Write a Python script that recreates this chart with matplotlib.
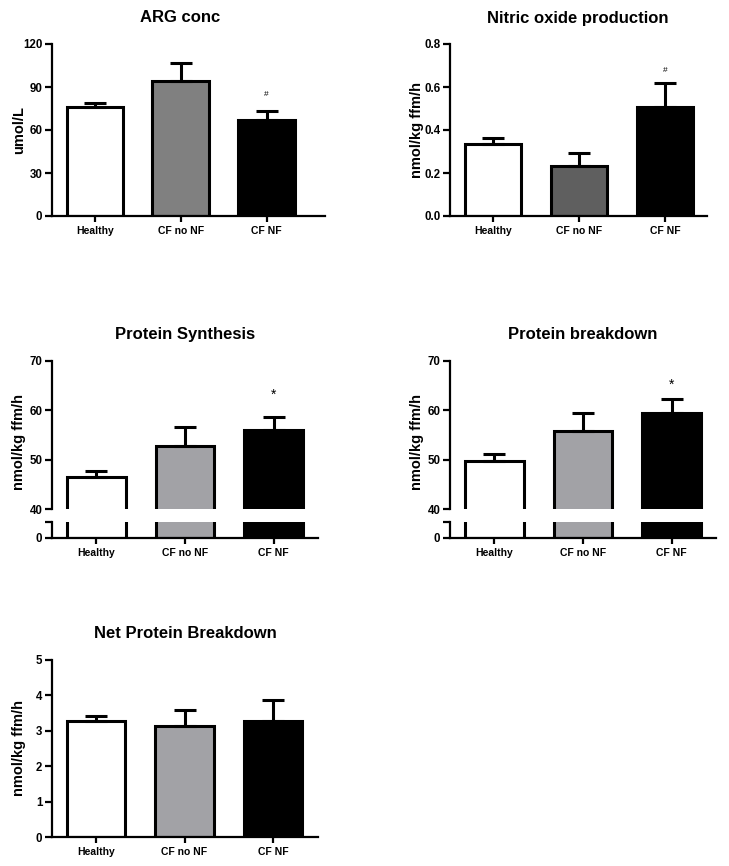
import numpy as np
import matplotlib
matplotlib.use('Agg')
import matplotlib.pyplot as plt

plt.rcParams['font.family'] = ['Liberation Sans', 'DejaVu Sans']
plt.rcParams['font.weight'] = 'bold'
plt.rcParams['axes.labelweight'] = 'bold'

groups = ['Healthy', 'CF no NF', 'CF NF']

arg_mean = [76, 94, 67]
arg_top = [79, 107, 73]
no_mean = [0.335, 0.232, 0.505]
no_top = [0.365, 0.293, 0.62]
syn_mean = [46.4, 52.7, 56.0]
syn_top = [47.8, 56.6, 58.6]
brk_mean = [49.7, 55.8, 59.4]
brk_top = [51.1, 59.4, 62.2]
net_mean = [3.28, 3.14, 3.27]
net_top = [3.41, 3.59, 3.87]

W, H = 729, 866
fig = plt.figure(figsize=(W / 100, H / 100), dpi=100)

lw = 2.2
x = np.arange(3)


def frac(l, t, r, b):
    return [l / W, 1 - b / H, (r - l) / W, (b - t) / H]


def style(ax):
    for s in ['top', 'right']:
        ax.spines[s].set_visible(False)
    for s in ['left', 'bottom']:
        ax.spines[s].set_linewidth(1.6)
    ax.tick_params(axis='y', width=1.6, length=5, labelsize=8.3, pad=2)
    ax.tick_params(axis='x', width=1.6, length=4, labelsize=7.5)


def bars(ax, mean, top, colors, werr=True):
    ax.bar(x, mean, width=0.66, color=colors, edgecolor='black', linewidth=lw, zorder=2)
    if werr:
        lo = np.zeros(3)
        hi = np.array(top) - np.array(mean)
        ax.errorbar(x, mean, yerr=[lo, hi], fmt='none', ecolor='black',
                    elinewidth=lw, capsize=8, capthick=lw, zorder=3)


def label(ax, text, l, r, yc=0.5):
    ax.set_ylabel(text, fontsize=10.5, fontweight='bold')
    ax.yaxis.set_label_coords(-26 / (r - l), yc)


def simple(l, t, r, b, mean, top, colors, ylim, ticks, ylabel, title, xr, tpos, fmt='%g'):
    ax = fig.add_axes(frac(l, t, r, b))
    bars(ax, mean, top, colors)
    ax.set_ylim(*ylim)
    ax.set_xlim(-0.5, xr)
    ax.set_yticks(ticks)
    ax.set_yticklabels([fmt % v for v in ticks])
    ax.set_xticks(x)
    ax.set_xticklabels(groups)
    label(ax, ylabel, l, r)
    style(ax)
    fig.text(tpos[0] / W, 1 - tpos[1] / H, title, ha='center', va='center',
             fontsize=12, fontweight='bold')
    return ax


def broken(l, r, t1, b1, t2, b2, mean, top, colors, ylabel, title, tpos):
    up = fig.add_axes(frac(l, t1, r, b1))
    lo = fig.add_axes(frac(l, t2, r, b2))
    bars(up, mean, top, colors)
    bars(lo, mean, top, colors, werr=False)
    up.set_ylim(40, 70)
    up.set_yticks([40, 50, 60, 70])
    lo.set_ylim(0, 3)
    lo.set_yticks([0, 3])
    lo.set_yticklabels(['0', ''])
    for ax in (up, lo):
        ax.set_xlim(-0.5, 2.5)
        style(ax)
    up.spines['bottom'].set_visible(False)
    up.set_xticks([])
    lo.set_xticks(x)
    lo.set_xticklabels(groups)
    label(up, ylabel, l, r, 0.45)
    fig.text(tpos[0] / W, 1 - tpos[1] / H, title, ha='center', va='center',
             fontsize=12, fontweight='bold')
    return up


ax1 = simple(52, 44, 325, 216, arg_mean, arg_top, ['white', '#808080', 'black'],
             (0, 120), [0, 30, 60, 90, 120], 'umol/L', 'ARG conc', 2.68, (180, 18))
ax1.text(2, 85, '#', ha='center', va='center', fontsize=6, fontweight='normal')

ax2 = simple(450, 44, 707, 216, no_mean, no_top, ['white', '#5f5f5f', 'black'],
             (0, 0.8), [0, 0.2, 0.4, 0.6, 0.8], 'nmol/kg ffm/h', 'Nitric oxide production',
             2.49, (578, 18), fmt='%.1f')
ax2.text(2, 0.675, '#', ha='center', va='center', fontsize=6, fontweight='normal')

ax3 = broken(52, 318, 361, 509, 522, 538, syn_mean, syn_top, ['white', '#a2a2a6', 'black'],
             'nmol/kg ffm/h', 'Protein Synthesis', (185, 335))
ax3.text(2, 63.2, '*', ha='center', va='center', fontsize=10, fontweight='normal')

ax4 = broken(450, 716, 361, 509, 522, 538, brk_mean, brk_top, ['white', '#a2a2a6', 'black'],
             'nmol/kg ffm/h', 'Protein breakdown', (583, 335))
ax4.text(2, 65.1, '*', ha='center', va='center', fontsize=10, fontweight='normal')

ax5 = simple(52, 660, 318, 837, net_mean, net_top, ['white', '#a2a2a6', 'black'],
             (0, 5), [0, 1, 2, 3, 4, 5], 'nmol/kg ffm/h', 'Net Protein Breakdown',
             2.51, (185, 633))

fig.savefig('out.png', dpi=100)
